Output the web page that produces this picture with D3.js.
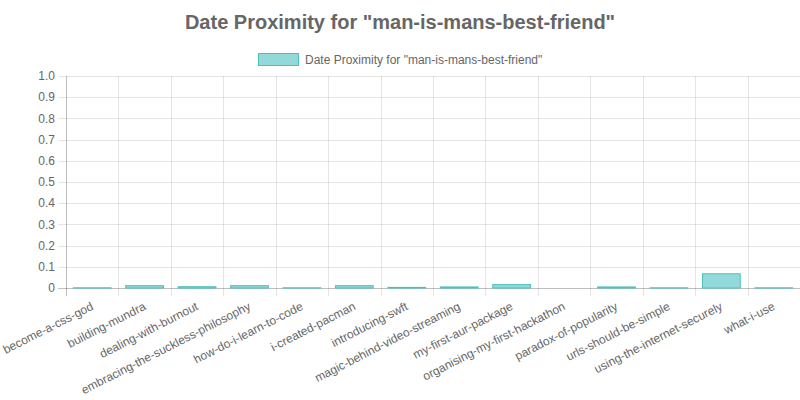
<!DOCTYPE html>
<html>
<head>
<meta charset="utf-8">
<script src="https://cdn.jsdelivr.net/npm/d3@7"></script>
<style>
  body { margin: 0; background: #fff; }
  text { font-family: "Liberation Sans", Arial, Helvetica, sans-serif; fill: #666; }
</style>
</head>
<body>
<svg id="chart" width="800" height="400"></svg>
<script>
// chart data
const titleText = 'Date Proximity for "man-is-mans-best-friend"'
const seriesName = 'Date Proximity for "man-is-mans-best-friend"'
const posts = [
  'become-a-css-god', 'building-mundra', 'dealing-with-burnout',
  'embracing-the-suckless-philosophy', 'how-do-i-learn-to-code', 'i-created-pacman',
  'introducing-swft', 'magic-behind-video-streaming', 'my-first-aur-package',
  'organising-my-first-hackathon', 'paradox-of-popularity', 'urls-should-be-simple',
  'using-the-internet-securely', 'what-i-use'
]
const proximity = [0.001, 0.011, 0.006, 0.011, 0.001, 0.011, 0.003, 0.005, 0.016, 0, 0.005, 0.001, 0.067, 0.001]
const yTicks = [0, 0.1, 0.2, 0.3, 0.4, 0.5, 0.6, 0.7, 0.8, 0.9, 1.0]

const svg = d3.select('#chart')
const margin = { top: 76, right: 0, bottom: 112, left: 66 }
const width = 800 - margin.left - margin.right
const height = 400 - margin.top - margin.bottom

// Title
svg.append('text')
  .attr('x', 400).attr('y', 29)
  .attr('text-anchor', 'middle')
  .style('font-size', '20px').style('font-weight', 'bold')
  .text(titleText)

// Legend
const legend = svg.append('g').attr('id', 'legend')
legend.append('rect')
  .attr('x', 258.5).attr('y', 53.5).attr('width', 40).attr('height', 12)
  .attr('fill', 'rgba(75,192,192,0.6)').attr('stroke', 'rgb(75,192,192)')
legend.append('text')
  .attr('x', 305).attr('y', 64)
  .style('font-size', '12px')
  .text(seriesName)

const g = svg.append('g').attr('transform', `translate(${margin.left},${margin.top})`)

let x = d3.scaleBand().domain(posts).range([0, width])
let y = d3.scaleLinear().domain([0, 1]).range([height, 0])

// Horizontal grid + y ticks
g.selectAll('.hgrid')
  .data(yTicks)
  .enter()
  .append('line')
  .attr('class', 'hgrid')
  .attr('x1', -8).attr('x2', width)
  .attr('y1', (d) => Math.round(y(d)) + 0.5)
  .attr('y2', (d) => Math.round(y(d)) + 0.5)
  .attr('stroke', (d) => (d === 0 ? 'rgba(0,0,0,0.25)' : 'rgba(0,0,0,0.1)'))

// Vertical grid (between categories)
const edges = posts.map((p) => x(p)).concat([width])
g.selectAll('.vgrid')
  .data(edges)
  .enter()
  .append('line')
  .attr('class', 'vgrid')
  .attr('x1', (d) => Math.round(d) + 0.5)
  .attr('x2', (d) => Math.round(d) + 0.5)
  .attr('y1', 0).attr('y2', height + 8)
  .attr('stroke', (d, i) => (i === 0 ? 'rgba(0,0,0,0.25)' : 'rgba(0,0,0,0.1)'))

// Y axis labels
g.selectAll('.ylab')
  .data(yTicks)
  .enter()
  .append('text')
  .attr('class', 'ylab')
  .attr('x', -11)
  .attr('y', (d) => y(d))
  .attr('dy', '0.35em')
  .attr('text-anchor', 'end')
  .style('font-size', '12px')
  .text((d) => (d === 0 ? '0' : d3.format('.1f')(d)))

// Bars
const barW = x.bandwidth() * 0.72
g.selectAll('.bar')
  .data(proximity)
  .enter()
  .append('rect')
  .attr('class', 'bar')
  .attr('x', (d, i) => x(posts[i]) + (x.bandwidth() - barW) / 2)
  .attr('y', (d) => y(d))
  .attr('width', barW)
  .attr('height', (d) => height - y(d))
  .attr('fill', 'rgba(75,192,192,0.6)')
  .attr('stroke', 'rgb(75,192,192)')
  .attr('stroke-width', (d) => (d > 0 ? 1 : 0))

// X labels, rotated
g.selectAll('.xlab')
  .data(posts)
  .enter()
  .append('text')
  .attr('class', 'xlab')
  .attr('text-anchor', 'end')
  .attr('transform', (d) => `translate(${x(d) + x.bandwidth() / 2 + 2},${height + 21}) rotate(-27)`)
  .style('font-size', '12px')
  .text((d) => d)
</script>
</body>
</html>
